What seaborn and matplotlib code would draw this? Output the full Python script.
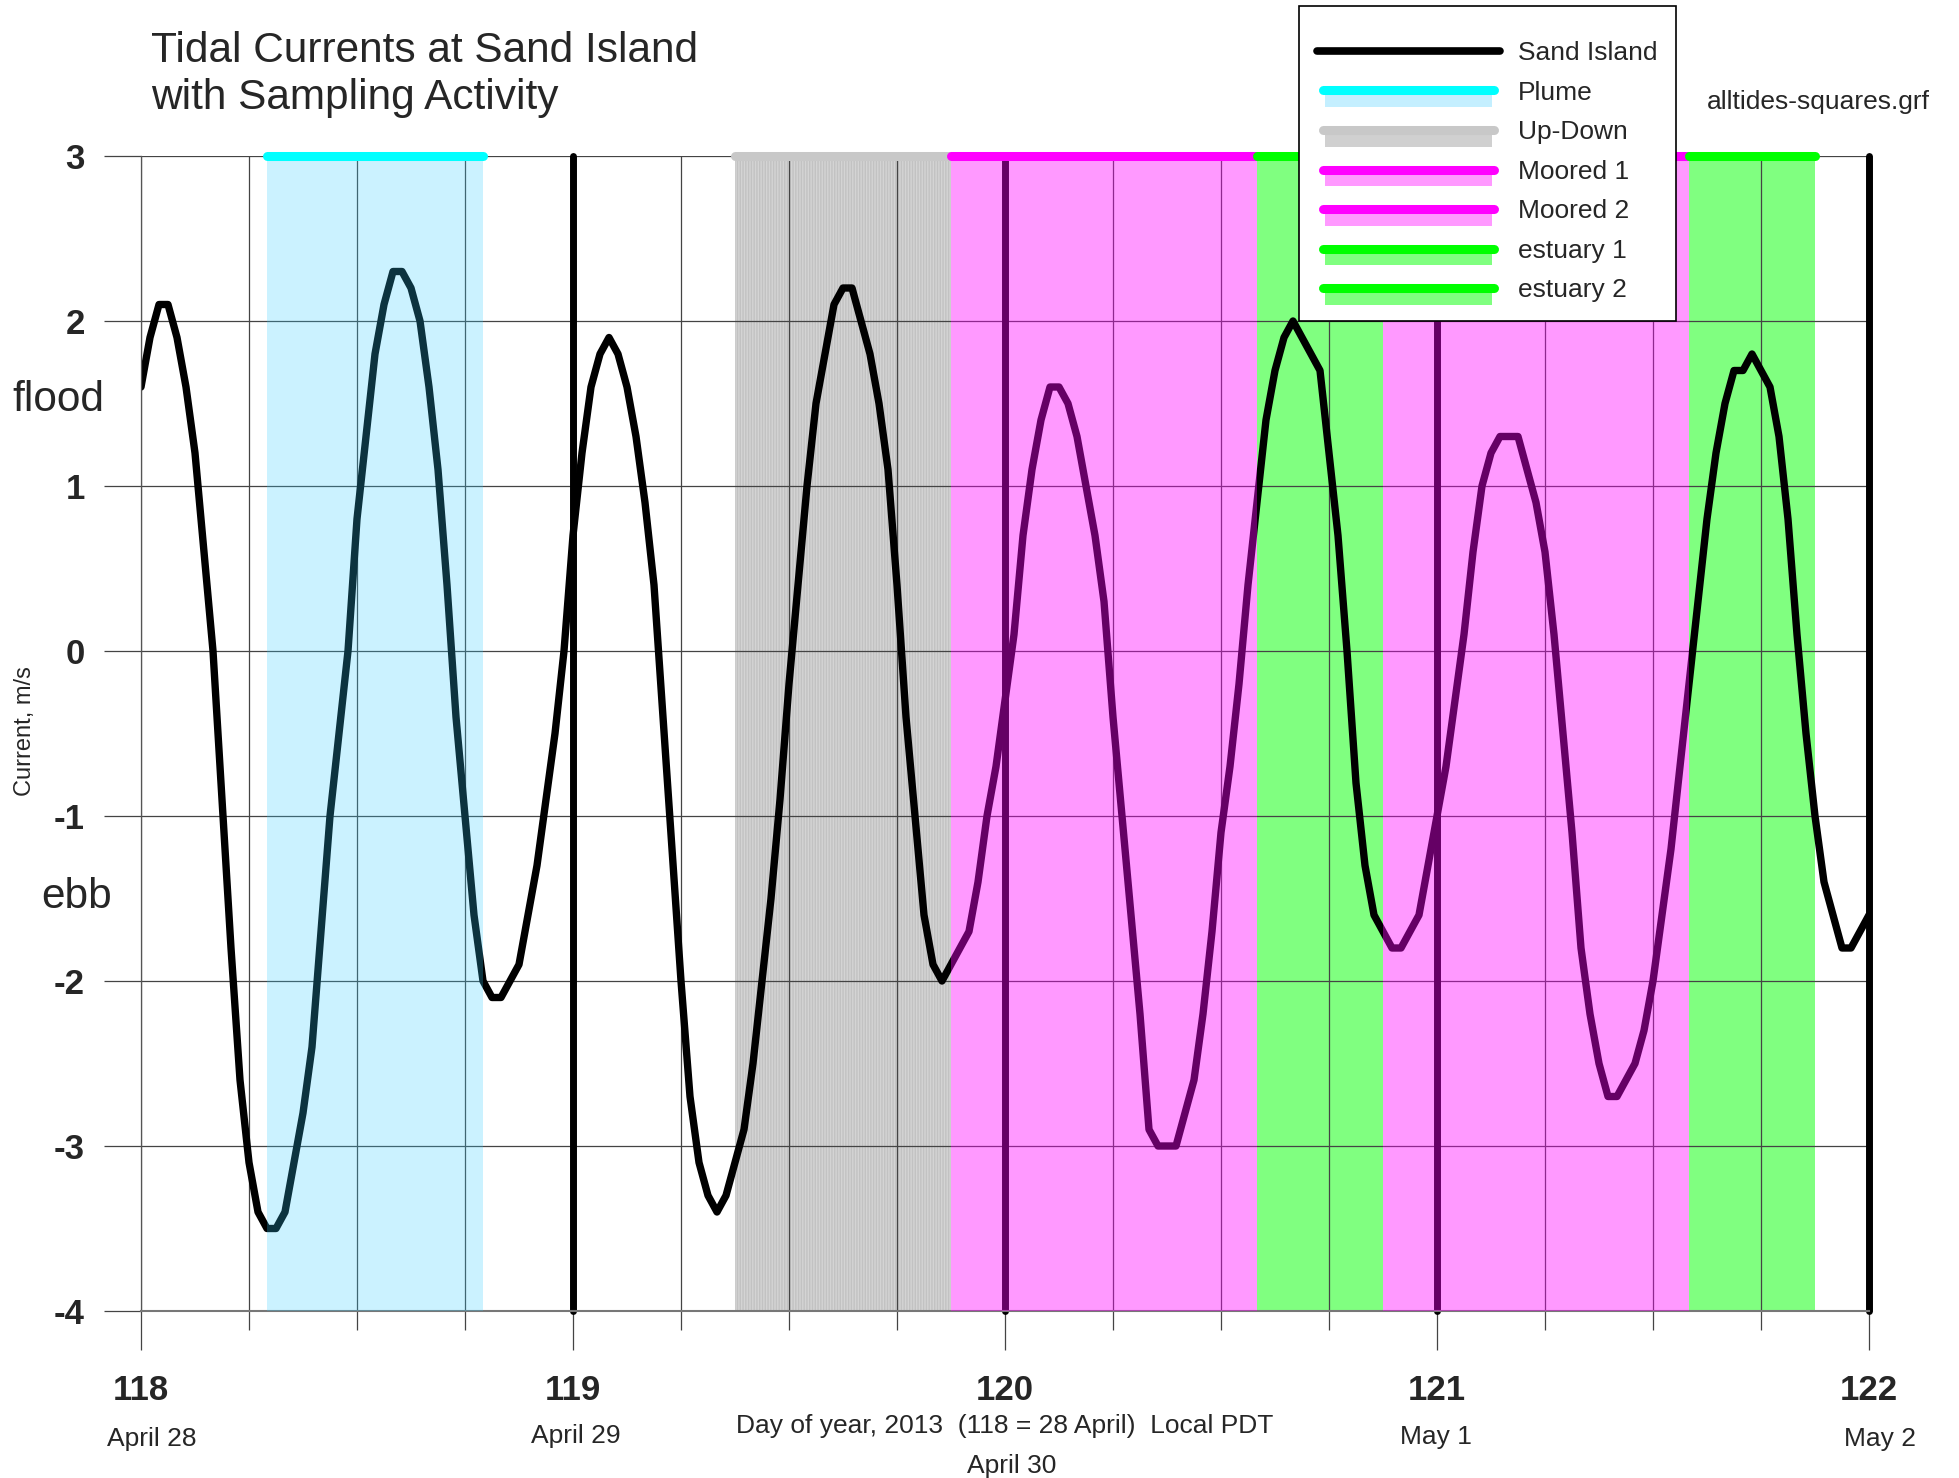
import numpy as np
import matplotlib
matplotlib.use('Agg')
import matplotlib.pyplot as plt
import matplotlib.transforms as mtransforms
from matplotlib.lines import Line2D
from matplotlib.patches import Patch, Rectangle
from matplotlib.legend_handler import HandlerBase
import seaborn as sns

# half-hourly tidal current at Sand Island (m/s), one list per day of year
current_118 = [1.6, 1.9, 2.1, 2.1, 1.9, 1.6, 1.2, 0.6, 0.0, -0.9,
               -1.8, -2.6, -3.1, -3.4, -3.5, -3.5, -3.4, -3.1, -2.8, -2.4,
               -1.7, -1.0, -0.5, 0.0, 0.8, 1.3, 1.8, 2.1, 2.3, 2.3,
               2.2, 2.0, 1.6, 1.1, 0.4, -0.4, -1.0, -1.6, -2.0, -2.1,
               -2.1, -2.0, -1.9, -1.6, -1.3, -0.9, -0.5, 0.0]
current_119 = [0.7, 1.2, 1.6, 1.8, 1.9, 1.8, 1.6, 1.3, 0.9, 0.4,
               -0.4, -1.2, -2.0, -2.7, -3.1, -3.3, -3.4, -3.3, -3.1, -2.9,
               -2.5, -2.0, -1.5, -0.9, -0.2, 0.4, 1.0, 1.5, 1.8, 2.1,
               2.2, 2.2, 2.0, 1.8, 1.5, 1.1, 0.4, -0.4, -1.0, -1.6,
               -1.9, -2.0, -1.9, -1.8, -1.7, -1.4, -1.0, -0.7]
current_120 = [-0.3, 0.1, 0.7, 1.1, 1.4, 1.6, 1.6, 1.5, 1.3, 1.0,
               0.7, 0.3, -0.4, -1.0, -1.6, -2.2, -2.9, -3.0, -3.0, -3.0,
               -2.8, -2.6, -2.2, -1.7, -1.1, -0.7, -0.2, 0.4, 0.9, 1.4,
               1.7, 1.9, 2.0, 1.9, 1.8, 1.7, 1.2, 0.7, 0.0, -0.8,
               -1.3, -1.6, -1.7, -1.8, -1.8, -1.7, -1.6, -1.3]
current_121 = [-1.0, -0.7, -0.3, 0.1, 0.6, 1.0, 1.2, 1.3, 1.3, 1.3,
               1.1, 0.9, 0.6, 0.1, -0.5, -1.1, -1.8, -2.2, -2.5, -2.7,
               -2.7, -2.6, -2.5, -2.3, -2.0, -1.6, -1.2, -0.7, -0.2, 0.3,
               0.8, 1.2, 1.5, 1.7, 1.7, 1.8, 1.7, 1.6, 1.3, 0.8,
               0.1, -0.5, -1.0, -1.4, -1.6, -1.8, -1.8, -1.7]
current_122 = [-1.6]

current = current_118 + current_119 + current_120 + current_121 + current_122
day = 118 + np.arange(len(current)) / 48.0

# sampling activity (day of year)
sample_names = ['Plume', 'Up-Down', 'Moored 1', 'Moored 2', 'estuary 1', 'estuary 2']
sample_start = [118.292, 119.375, 119.875, 120.875, 120.583, 121.583]
sample_end = [118.792, 119.875, 120.583, 121.583, 120.875, 121.875]
bar_colors = ['#00ffff', '#c8c8c8', '#ff00ff', '#ff00ff', '#00ff00', '#00ff00']
fill_colors = ['#33ccff', '#d4d4d4', '#ff00ff', '#ff00ff', '#80ff80', '#80ff80']
hatch_colors = ['none', '#c2c2c2', 'none', 'none', 'none', 'none']
fill_alpha = [0.25, 1.0, 0.4, 0.4, 1.0, 1.0]
fill_on_top = [True, False, True, True, False, False]
legend_patch = ['#c4efff', '#d0d0d0', '#ff99ff', '#ff99ff', '#80ff80', '#80ff80']

day_ticks = [118, 119, 120, 121, 122]
day_lines = [119, 120, 121, 122]
dates = ['April 28', 'April 29', 'April 30', 'May 1', 'May 2']
date_x = [118.026, 119.007, 120.016, 120.998, 122.025]
date_y_px = [1439, 1436, 1466, 1437, 1439]


class LineOverPatch(HandlerBase):
    def create_artists(self, legend, orig_handle, xdescent, ydescent,
                       width, height, fontsize, trans):
        line, patch = orig_handle
        yc = height / 2 - ydescent
        rect = Rectangle((-xdescent + 0.04 * width, yc - 0.9 * height),
                         0.92 * width, 0.72 * height,
                         facecolor=patch.get_facecolor(), edgecolor='none',
                         transform=trans)
        ln = Line2D([-xdescent + 0.03 * width, width - xdescent - 0.03 * width], [yc, yc],
                    color=line.get_color(), linewidth=line.get_linewidth(),
                    solid_capstyle='round', transform=trans)
        return [rect, ln]


sns.set_style('white')
plt.rcParams['font.family'] = ['Liberation Sans', 'DejaVu Sans']
plt.rcParams['axes.unicode_minus'] = False
plt.rcParams['hatch.linewidth'] = 1.0

W, H = 1959, 1478
fig = plt.figure(figsize=(W / 100, H / 100), dpi=100)
ax = fig.add_axes([141 / W, 1 - 1311 / H, 1728 / W, 1155 / H])

# shaded sampling periods
for s, e, c, hc, a, top in zip(sample_start, sample_end, fill_colors, hatch_colors,
                               fill_alpha, fill_on_top):
    ax.axvspan(s, e, facecolor=c, edgecolor=hc, hatch='||||||' if hc != 'none' else None,
               alpha=a, lw=0, zorder=3 if top else 0.2)

sns.lineplot(x=day, y=current, ax=ax, color='black', linewidth=5.3, zorder=2)
ax.vlines(day_lines, -4, 3, colors='black', linewidth=5, zorder=2,
          capstyle='round', clip_on=False)

for s, e, c in zip(sample_start, sample_end, bar_colors):
    ax.plot([s, e], [3, 3], color=c, linewidth=6.5, solid_capstyle='round',
            zorder=5, clip_on=False)

ax.set_xlim(118, 122)
ax.set_ylim(-4, 3)
ax.set_xticks(day_ticks)
ax.set_xticks(np.arange(118, 122.01, 0.25), minor=True)
ax.set_yticks(range(-4, 4))
ax.set_axisbelow(True)
ax.grid(which='both', axis='x', color='#444444', linewidth=0.9)
ax.grid(which='major', axis='y', color='#444444', linewidth=0.9)
ax.tick_params(axis='x', which='major', bottom=True, direction='out', length=28,
               width=0.9, color='#444444', pad=17, labelsize=25)
ax.tick_params(axis='x', which='minor', bottom=True, direction='out', length=13.7,
               width=0.9, color='#444444')
ax.tick_params(axis='y', left=True, direction='out', length=27, width=0.9,
               color='#444444', pad=13.5, labelsize=25)
for lab in ax.get_xticklabels() + ax.get_yticklabels():
    lab.set_fontweight('bold')
for side in ['top', 'right']:
    ax.spines[side].set_visible(False)
ax.spines['left'].set_color('#555555')
ax.spines['left'].set_linewidth(0.9)
ax.spines['bottom'].set_color('#777777')
ax.spines['bottom'].set_linewidth(1.5)
ax.set_xlabel('')
ax.set_ylabel('')

# texts
fig.text(151 / W, 1 - 62 / H, 'Tidal Currents at Sand Island', fontsize=30.5, va='baseline')
fig.text(151 / W, 1 - 109 / H, 'with Sampling Activity', fontsize=30.5, va='baseline')
fig.text(1707 / W, 1 - 102 / H, 'alltides-squares.grf', fontsize=19, va='center')
ax.text((12 - 141) / 1728, (1311 - 400) / 1155, 'flood', fontsize=30.5,
        ha='left', va='center', transform=ax.transAxes)
ax.text((41 - 141) / 1728, (1311 - 897) / 1155, 'ebb', fontsize=30.5,
        ha='left', va='center', transform=ax.transAxes)
ax.text((25 - 141) / 1728, (1311 - 731) / 1155, 'Current, m/s', fontsize=17,
        rotation=90, ha='center', va='center', transform=ax.transAxes)
ax.text(0.5, (1311 - 1426) / 1155, 'Day of year, 2013  (118 = 28 April)  Local PDT',
        fontsize=19, ha='center', va='center', transform=ax.transAxes)
blend = mtransforms.blended_transform_factory(ax.transData, fig.transFigure)
for lab, x, ypx in zip(dates, date_x, date_y_px):
    ax.text(x, 1 - ypx / H, lab, fontsize=19, ha='center', va='center',
            transform=blend, clip_on=False)

# legend
handles = [Line2D([], [], color='black', linewidth=5.5, solid_capstyle='round')]
for c, pc in zip(bar_colors, legend_patch):
    handles.append((Line2D([], [], color=c, linewidth=6.5), Patch(facecolor=pc)))
labels = ['Sand Island'] + sample_names
leg = fig.legend(handles, labels, loc='upper left', bbox_to_anchor=(1299 / W, 1 - 6 / H),
                 borderaxespad=0, frameon=True, fancybox=False, edgecolor='black',
                 framealpha=1, fontsize=19, handlelength=6.9, handletextpad=0.7,
                 labelspacing=0.59, borderpad=0.7, title=' ', title_fontsize=1,
                 handler_map={tuple: LineOverPatch()})
leg.get_frame().set_linewidth(1.2)

fig.savefig('out.png', dpi=100)
